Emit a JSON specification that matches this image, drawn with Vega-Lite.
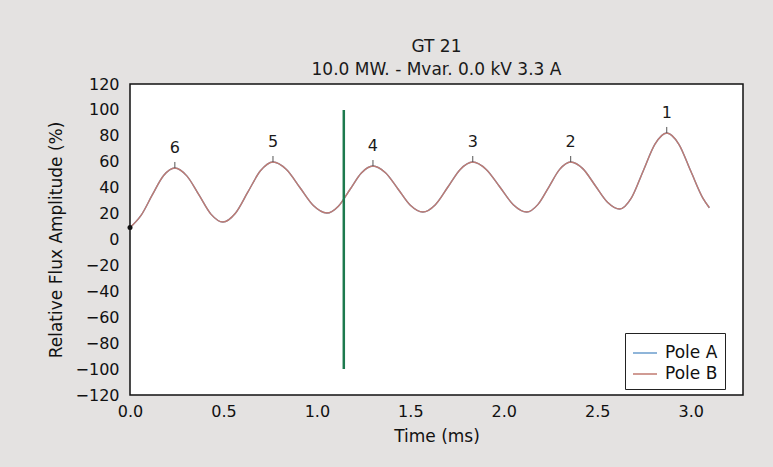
{
  "$schema": "https://vega.github.io/schema/vega-lite/v6.json",
  "width": 613,
  "height": 311,
  "autosize": {"type": "none"},
  "padding": {"left": 130, "top": 84, "right": 30, "bottom": 72},
  "background": "#e4e2e1",
  "title": {
    "text": ["GT 21", "10.0 MW. - Mvar. 0.0 kV 3.3 A"],
    "fontSize": 17,
    "font": "DejaVu Sans",
    "fontWeight": "normal",
    "lineHeight": 23,
    "color": "#1a1a1a",
    "anchor": "middle",
    "offset": -3
  },
  "config": {
    "view": {"stroke": "#111", "strokeWidth": 1.5, "fill": "white"},
    "font": "DejaVu Sans"
  },
  "datasets": {
    "curve": [
      {"t": 0, "Pole A": 9.2, "Pole B": 9.2},
      {"t": 0.06, "Pole A": 18.8, "Pole B": 18.8},
      {"t": 0.12, "Pole A": 34.6, "Pole B": 34.6},
      {"t": 0.18, "Pole A": 49.4, "Pole B": 49.4},
      {"t": 0.24, "Pole A": 55.2, "Pole B": 55.2},
      {"t": 0.304, "Pole A": 49.1, "Pole B": 49.1},
      {"t": 0.369, "Pole A": 34.4, "Pole B": 34.4},
      {"t": 0.433, "Pole A": 19.6, "Pole B": 19.6},
      {"t": 0.497, "Pole A": 13.5, "Pole B": 13.5},
      {"t": 0.564, "Pole A": 20.3, "Pole B": 20.3},
      {"t": 0.631, "Pole A": 36.7, "Pole B": 36.7},
      {"t": 0.698, "Pole A": 53.0, "Pole B": 53.0},
      {"t": 0.765, "Pole A": 59.8, "Pole B": 59.8},
      {"t": 0.837, "Pole A": 54.0, "Pole B": 54.0},
      {"t": 0.909, "Pole A": 40.1, "Pole B": 40.1},
      {"t": 0.981, "Pole A": 26.2, "Pole B": 26.2},
      {"t": 1.053, "Pole A": 20.4, "Pole B": 20.4},
      {"t": 1.115, "Pole A": 25.7, "Pole B": 25.7},
      {"t": 1.177, "Pole A": 38.6, "Pole B": 38.6},
      {"t": 1.238, "Pole A": 51.4, "Pole B": 51.4},
      {"t": 1.3, "Pole A": 56.7, "Pole B": 56.7},
      {"t": 1.367, "Pole A": 51.5, "Pole B": 51.5},
      {"t": 1.434, "Pole A": 39.0, "Pole B": 39.0},
      {"t": 1.5, "Pole A": 26.4, "Pole B": 26.4},
      {"t": 1.567, "Pole A": 21.2, "Pole B": 21.2},
      {"t": 1.634, "Pole A": 26.9, "Pole B": 26.9},
      {"t": 1.701, "Pole A": 40.5, "Pole B": 40.5},
      {"t": 1.767, "Pole A": 54.1, "Pole B": 54.1},
      {"t": 1.834, "Pole A": 59.8, "Pole B": 59.8},
      {"t": 1.906, "Pole A": 54.1, "Pole B": 54.1},
      {"t": 1.979, "Pole A": 40.5, "Pole B": 40.5},
      {"t": 2.051, "Pole A": 26.9, "Pole B": 26.9},
      {"t": 2.123, "Pole A": 21.2, "Pole B": 21.2},
      {"t": 2.182, "Pole A": 26.9, "Pole B": 26.9},
      {"t": 2.241, "Pole A": 40.5, "Pole B": 40.5},
      {"t": 2.299, "Pole A": 54.1, "Pole B": 54.1},
      {"t": 2.358, "Pole A": 59.8, "Pole B": 59.8},
      {"t": 2.424, "Pole A": 54.5, "Pole B": 54.5},
      {"t": 2.489, "Pole A": 41.7, "Pole B": 41.7},
      {"t": 2.555, "Pole A": 28.8, "Pole B": 28.8},
      {"t": 2.62, "Pole A": 23.5, "Pole B": 23.5},
      {"t": 2.683, "Pole A": 32.1, "Pole B": 32.1},
      {"t": 2.746, "Pole A": 52.9, "Pole B": 52.9},
      {"t": 2.809, "Pole A": 73.6, "Pole B": 73.6},
      {"t": 2.872, "Pole A": 82.2, "Pole B": 82.2},
      {"t": 2.937, "Pole A": 73.5, "Pole B": 73.5},
      {"t": 3.001, "Pole A": 52.6, "Pole B": 52.6},
      {"t": 3.066, "Pole A": 31.7, "Pole B": 31.7},
      {"t": 3.1, "Pole A": 24.5, "Pole B": 24.5}
    ],
    "peaks": [
      {"t": 0.24, "v": 55.2, "n": "6"},
      {"t": 0.765, "v": 59.8, "n": "5"},
      {"t": 1.3, "v": 56.7, "n": "4"},
      {"t": 1.834, "v": 59.8, "n": "3"},
      {"t": 2.358, "v": 59.8, "n": "2"},
      {"t": 2.872, "v": 82.2, "n": "1"}
    ],
    "marker": [{"t": 1.144, "v": -100, "v2": 100}],
    "start": [{"t": 0, "v": 9.2}]
  },
  "encoding": {
    "x": {
      "field": "t",
      "type": "quantitative",
      "scale": {"domain": [0, 3.28], "nice": false, "zero": false},
      "axis": {
        "title": "Time (ms)",
        "values": [0, 0.5, 1, 1.5, 2, 2.5, 3],
        "format": ".1f",
        "labelFontSize": 16,
        "labelColor": "#111",
        "labelFlush": false,
        "labelOverlap": false,
        "labelPadding": 8,
        "ticks": false,
        "domain": false,
        "grid": false,
        "titleFontSize": 17,
        "titleFontWeight": "normal",
        "titleColor": "#111",
        "titlePadding": 9
      }
    },
    "y": {
      "field": "v",
      "type": "quantitative",
      "scale": {"domain": [-120, 120], "nice": false},
      "axis": {
        "title": "Relative Flux Amplitude (%)",
        "values": [-120, -100, -80, -60, -40, -20, 0, 20, 40, 60, 80, 100, 120],
        "labelFontSize": 16,
        "labelColor": "#111",
        "labelFlush": false,
        "labelOverlap": false,
        "labelPadding": 11,
        "ticks": false,
        "domain": false,
        "grid": false,
        "titleFontSize": 17,
        "titleFontWeight": "normal",
        "titleColor": "#111",
        "titlePadding": 10
      }
    }
  },
  "layer": [
    {
      "data": {"name": "curve"},
      "transform": [{"fold": ["Pole A", "Pole B"], "as": ["pole", "v"]}],
      "mark": {"type": "line", "interpolate": "monotone", "strokeWidth": 1.4},
      "encoding": {
        "color": {
          "field": "pole",
          "type": "nominal",
          "scale": {"domain": ["Pole A", "Pole B"], "range": ["#6a9ccc", "#c07a70"]},
          "legend": {
            "title": null,
            "orient": "none",
            "legendX": 495,
            "legendY": 249,
            "symbolType": "stroke",
            "symbolSize": 576,
            "symbolStrokeWidth": 1.5,
            "labelFontSize": 17,
            "labelColor": "#111",
            "labelOffset": 7,
            "rowPadding": -3,
            "padding": 7,
            "strokeColor": "#222",
            "fillColor": "white",
            "cornerRadius": 0
          }
        }
      }
    },
    {
      "data": {"name": "marker"},
      "mark": {"type": "rule", "color": "#1d7a4e", "strokeWidth": 2.5},
      "encoding": {"y2": {"field": "v2"}}
    },
    {
      "data": {"name": "peaks"},
      "mark": {"type": "rule", "color": "#555", "strokeWidth": 1, "y2Offset": -6},
      "encoding": {"y2": {"field": "v"}}
    },
    {
      "data": {"name": "peaks"},
      "mark": {"type": "text", "fontSize": 16, "color": "#1a1a1a", "dy": -20, "baseline": "middle"},
      "encoding": {"text": {"field": "n"}}
    },
    {
      "data": {"name": "start"},
      "mark": {"type": "point", "filled": true, "color": "#111", "size": 25, "opacity": 1},
      "encoding": {}
    }
  ]
}
